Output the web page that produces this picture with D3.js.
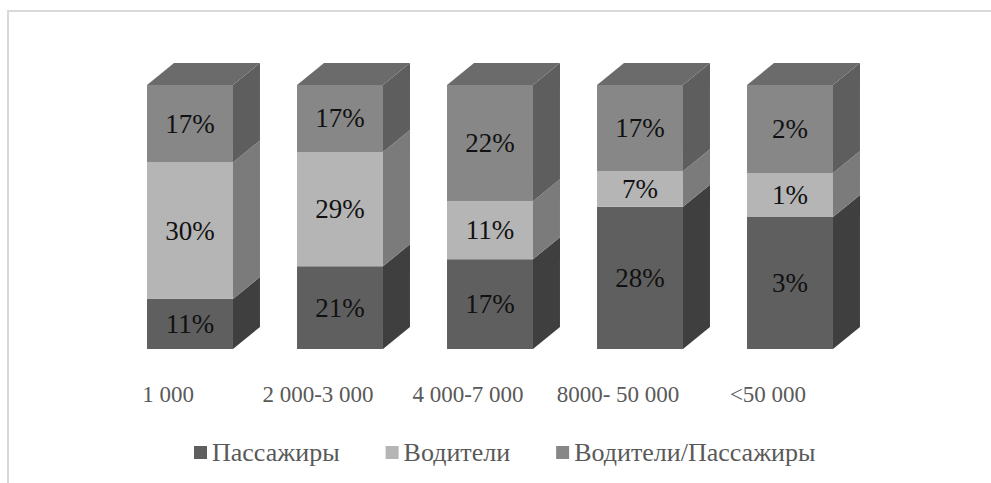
<!DOCTYPE html>
<html>
<head>
<meta charset="utf-8">
<script src="https://cdn.jsdelivr.net/npm/d3@7"></script>
<style>
body { margin: 0; background: #fff; }
</style>
</head>
<body>
<div id="chart"></div>
<script>
var categories = ["1 000", "2 000-3 000", "4 000-7 000", "8000- 50 000", "<50 000"];
var seriesNames = ["Пассажиры", "Водители", "Водители/Пассажиры"];
var passengers = [11, 21, 17, 28, 3];
var drivers = [30, 29, 11, 7, 1];
var both = [17, 17, 22, 17, 2];

// front / side / top shades per series
var shades = [
    {front: "#5f5f5f", side: "#3f3f3f", top: "#4e4e4e"},
    {front: "#b5b5b5", side: "#7b7b7b", top: "#9b9b9b"},
    {front: "#878787", side: "#5e5e5e", top: "#6b6b6b"}
];

var width = 991, height = 483;
var depthX = 27, depthY = -22;
var serif = "Liberation Serif";

var svg = d3.select("#chart").append("svg")
    .attr("width", width)
    .attr("height", height)
    .style("display", "block");

// chart border
svg.append("rect")
    .attr("x", 8).attr("y", 11)
    .attr("width", 1200).attr("height", 600)
    .attr("fill", "none")
    .attr("stroke", "#d9d9d9")
    .attr("stroke-width", 2);

var x = d3.scaleBand()
    .domain(categories)
    .range([115, 865])
    .paddingInner(0.427)
    .paddingOuter(0.2135);

var y = d3.scaleLinear()
    .domain([0, 1])
    .range([349, 85]);

// build 100% stacked data
var rows = categories.map(function(c, i){
    return {cat: c, s0: passengers[i], s1: drivers[i], s2: both[i]};
});
var stack = d3.stack()
    .keys(["s0", "s1", "s2"])
    .offset(d3.stackOffsetExpand);
var layers = stack(rows);

var bw = x.bandwidth();

rows.forEach(function(r, i){
    var g = svg.append("g");
    layers.forEach(function(layer, k){
        var d = layer[i];
        var x0 = x(r.cat), x1 = x0 + bw;
        var yb = y(d[0]), yt = y(d[1]);
        // front
        g.append("rect")
            .attr("x", x0).attr("y", yt)
            .attr("width", bw).attr("height", yb - yt)
            .attr("fill", shades[k].front);
        // side
        g.append("path")
            .attr("d", "M" + x1 + "," + yb + "L" + (x1 + depthX) + "," + (yb + depthY) +
                "L" + (x1 + depthX) + "," + (yt + depthY) + "L" + x1 + "," + yt + "Z")
            .attr("fill", shades[k].side);
        // top face on the last segment
        if (k === layers.length - 1) {
            g.append("path")
                .attr("d", "M" + x0 + "," + yt + "L" + (x0 + depthX) + "," + (yt + depthY) +
                    "L" + (x1 + depthX) + "," + (yt + depthY) + "L" + x1 + "," + yt + "Z")
                .attr("fill", shades[k].top);
        }
        g.append("text")
            .attr("x", x0 + bw / 2)
            .attr("y", (yb + yt) / 2 + 9)
            .attr("text-anchor", "middle")
            .attr("font-family", serif)
            .attr("font-size", 27)
            .attr("fill", "#111")
            .text(r["s" + k] + "%");
    });
});

// category labels
svg.selectAll(".cat")
    .data(categories)
    .enter().append("text")
    .attr("class", "cat")
    .attr("x", function(d){ return x(d) + bw / 2 - 22; })
    .attr("y", 402)
    .attr("text-anchor", "middle")
    .attr("font-family", serif)
    .attr("font-size", 23)
    .attr("fill", "#595959")
    .text(function(d){ return d; });

// legend
var lx = 194;
seriesNames.forEach(function(name, k){
    svg.append("rect")
        .attr("x", lx).attr("y", 446)
        .attr("width", 13).attr("height", 13)
        .attr("fill", shades[k].front);
    var t = svg.append("text")
        .attr("x", lx + 18)
        .attr("y", 461)
        .attr("font-family", serif)
        .attr("font-size", 26)
        .attr("fill", "#595959")
        .text(name);
    lx += 18 + t.node().getComputedTextLength() + 46;
});
</script>
</body>
</html>
